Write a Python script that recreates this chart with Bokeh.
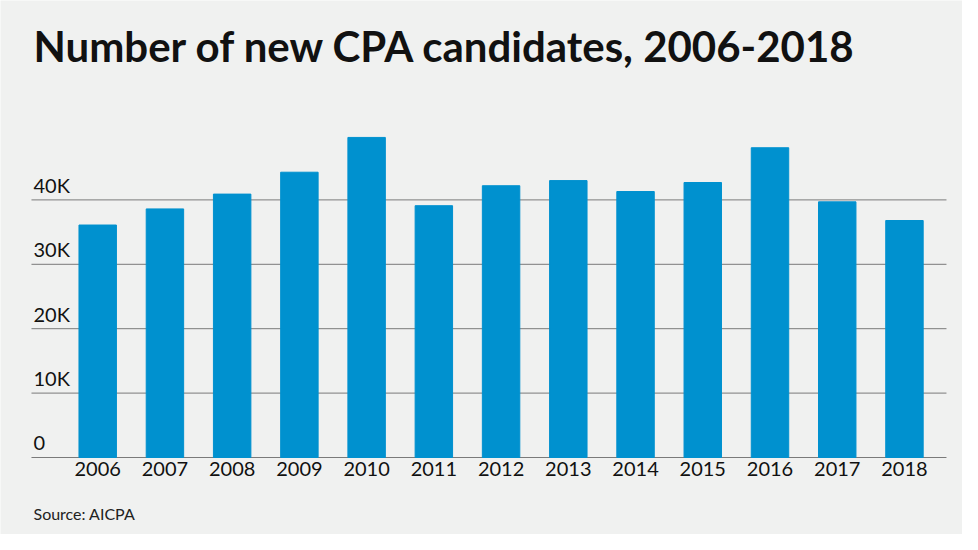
from bokeh.plotting import figure
from bokeh.models import Range1d, Label
from bokeh.core.properties import value
from bokeh.embed import file_html
from bokeh.resources import INLINE

# data
years = [2006, 2007, 2008, 2009, 2010, 2011, 2012, 2013, 2014, 2015, 2016, 2017, 2018]
candidates = [36100, 38600, 40900, 44300, 49700, 39100, 42200, 43000, 41300, 42700, 48100, 39700, 36800]
y_ticks = [0, 10000, 20000, 30000, 40000]
y_tick_labels = ["0", "10K", "20K", "30K", "40K"]

title_text = "Number of new CPA candidates, 2006-2018"
source_text = "Source: AICPA"

BG = "#f0f1f0"
BAR = "#0091cf"
INK = "#111111"
FONT = "Lato"

W, H = 962, 534
# the frame covers the whole canvas; these set the pixel scale
X_PX_FIRST = 97.2      # px of the first year's bar centre
X_PX_STEP = 67.23      # px between years
Y_PX_BASE = 457        # px (from top) of the zero line
Y_PX_PER_10K = 64.4


def main():
    x0 = years[0] - X_PX_FIRST / X_PX_STEP
    x1 = years[0] + (W - X_PX_FIRST) / X_PX_STEP
    y0 = -(H - Y_PX_BASE) / Y_PX_PER_10K * 10000
    y1 = Y_PX_BASE / Y_PX_PER_10K * 10000

    p = figure(width=W, height=H, output_backend="svg", toolbar_location=None,
               x_range=Range1d(x0, x1), y_range=Range1d(y0, y1),
               min_border=0)
    p.axis.visible = False
    p.grid.visible = False
    p.background_fill_color = BG
    p.border_fill_color = BG
    p.outline_line_color = None

    # gridlines run from a little left of the first bar to past the last one
    grid_left = years[0] - 0.985
    grid_right = years[-1] + 0.625
    p.segment(x0=[grid_left] * len(y_ticks), x1=[grid_right] * len(y_ticks),
              y0=y_ticks, y1=y_ticks, line_color="#7a7a7a", line_width=1)

    # bars
    p.vbar(x=years, top=candidates, width=0.557, color=BAR)

    # y labels sit above each gridline at the left
    p.text(x=[grid_left] * len(y_ticks), y=y_ticks, text=y_tick_labels,
           text_font=value(FONT), text_font_size="20px", text_color=INK,
           text_baseline="alphabetic", x_offset=2, y_offset=-15)

    # year labels under the bars
    p.text(x=years, y=[0] * len(years), text=[str(y) for y in years],
           text_font=value(FONT), text_font_size="20px", text_color=INK,
           text_align="center", text_baseline="alphabetic", y_offset=11)

    # title and source
    p.add_layout(Label(x=33, y=H - 45, x_units="screen", y_units="screen", text=title_text,
                       text_font=FONT, text_font_size="42px", text_font_style="bold",
                       text_color=INK, text_baseline="alphabetic"))
    p.add_layout(Label(x=33, y=H - 513, x_units="screen", y_units="screen", text=source_text,
                       text_font=FONT, text_font_size="16px", text_color="#222222",
                       text_baseline="alphabetic"))

    open("out.html", "w").write(file_html(p, INLINE))


if __name__ == '__main__':
    main()
